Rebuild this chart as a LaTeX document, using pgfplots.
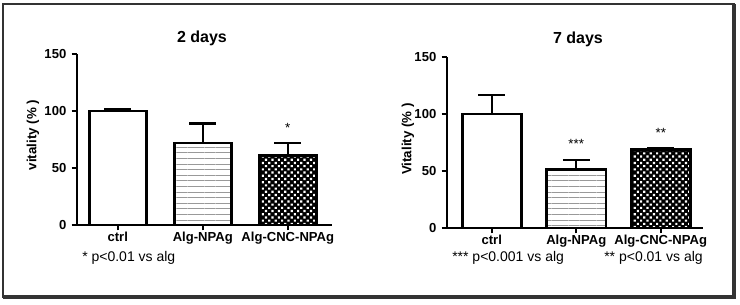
\documentclass[border=0pt]{standalone}
\usepackage{fontspec}
\setmainfont{Liberation Sans}
\usepackage{pgfplots}
\pgfplotsset{compat=1.18}
\usetikzlibrary{patterns.meta}
\definecolor{frame}{HTML}{333333}
\pgfplotsset{
  prism/.style={
    scale only axis,
    width=191.25pt, height=128.25pt,
    ybar, bar shift=0pt,
    ymin=0, ymax=150,
    ytick={0,50,100,150},
    xtick={0,1,2},
    xticklabels={ctrl,Alg-NPAg,Alg-CNC-NPAg},
    axis x line*=bottom, axis y line*=left,
    axis line style={line width=1.6pt, -},
    tick align=outside,
    major tick length=4pt,
    tick style={black, line width=1.3pt},
    /pgf/number format/assume math mode=true,
    yticklabel style={font=\bfseries\fontsize{9.8}{11}\selectfont, xshift=-0.5pt},
    xticklabel style={font=\bfseries\fontsize{9.8}{11}\selectfont, yshift=2pt},
    every axis plot/.append style={draw=black, line width=2pt},
    error bars/y dir=plus, error bars/y explicit,
    error bars/error bar style={line width=1.6pt, black},
    error bars/error mark options={rotate=90, mark size=10pt, line width=1.6pt, black},
  },
  ctrlbar/.style={fill=white},
  npbar/.style={pattern={Lines[angle=0, distance=4.2pt, line width=0.7pt]}, pattern color=gray!80},
  cncbar/.style={fill=black, postaction={pattern={Dots[angle=45, distance=3.4pt, radius=1.15pt]}, pattern color=white}},
}
\begin{document}
\begin{tikzpicture}
\useasboundingbox (0,0) rectangle (555pt,228pt);
% frame
\draw[frame, line width=1.5pt] (2.25pt,5.25pt) rectangle (550.5pt,225pt);
\draw[frame, line width=2.4pt] (2.25pt,5.25pt) -- (550.5pt,5.25pt) -- (550.5pt,225pt);

% left panel
\begin{axis}[prism, at={(57.75pt,59.25pt)}, anchor=south west,
  xmin=-0.48, xmax=2.52, bar width=0.67]
\addplot[ctrlbar] coordinates {(0,100) +- (0,1.5)};
\addplot[npbar] coordinates {(1,72) +- (0,17)};
\addplot[cncbar] coordinates {(2,61) +- (0,11)};
\node[anchor=base, font=\fontsize{10}{12}\selectfont] at (axis cs:2,81) {*};
\end{axis}

% right panel
\begin{axis}[prism, at={(335.25pt,57pt)}, anchor=south west,
  width=192pt,
  xmin=-0.53, xmax=2.50, bar width=0.70]
\addplot[ctrlbar] coordinates {(0,100) +- (0,17)};
\addplot[npbar] coordinates {(1,51.5) +- (0,8)};
\addplot[cncbar] coordinates {(2,69) +- (0,1)};
\node[anchor=base, font=\fontsize{10}{12}\selectfont] at (axis cs:1,70) {***};
\node[anchor=base, font=\fontsize{10}{12}\selectfont] at (axis cs:2,79) {**};
\end{axis}

% titles
\node[font=\bfseries\fontsize{12}{14}\selectfont] at (151.5pt,199.5pt) {2 days};
\node[font=\bfseries\fontsize{12}{14}\selectfont] at (433.5pt,198.75pt) {7 days};
% y labels
\node[rotate=90, font=\bfseries\fontsize{10}{12}\selectfont] at (24.75pt,126.75pt) {vitality (\% )};
\node[rotate=90, font=\bfseries\fontsize{10}{12}\selectfont] at (306pt,123.75pt) {Vitality (\% )};
% footnotes
\node[anchor=west, inner sep=0pt, font=\fontsize{10.5}{12}\selectfont] at (61.5pt,34.5pt) {* p<0.01 vs alg};
\node[anchor=west, inner sep=0pt, font=\fontsize{10.5}{12}\selectfont] at (339pt,34.5pt) {*** p<0.001 vs alg};
\node[anchor=east, inner sep=0pt, font=\fontsize{10.5}{12}\selectfont] at (527.25pt,34.5pt) {** p<0.01 vs alg};
\end{tikzpicture}
\end{document}
